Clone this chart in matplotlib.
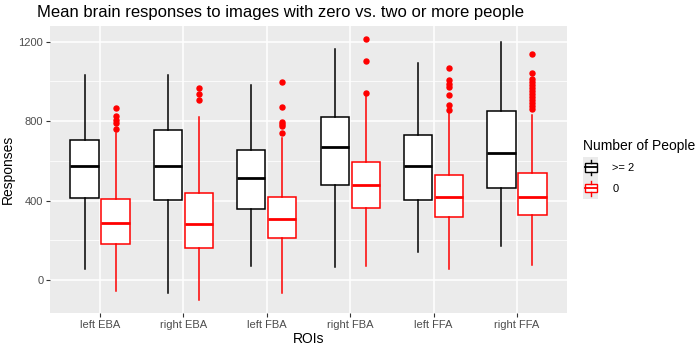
import matplotlib
matplotlib.use("Agg")
import matplotlib.pyplot as plt
from matplotlib.patches import Patch, Rectangle
from matplotlib.lines import Line2D
from matplotlib.legend_handler import HandlerBase

plt.rcParams['font.family'] = ['Liberation Sans', 'DejaVu Sans']

rois = ["left EBA", "right EBA", "left FBA", "right FBA", "left FFA", "right FFA"]
groups = [">= 2", "0"]
colors = ["black", "red"]

# box stats: whisker low, Q1, median, Q3, whisker high
two_plus_lo = [58, -67, 72, 65, 142, 173]
two_plus_q1 = [413, 402, 358, 480, 403, 465]
two_plus_med = [575, 573, 513, 668, 572, 640]
two_plus_q3 = [705, 755, 655, 820, 732, 852]
two_plus_hi = [1033, 1033, 983, 1162, 1092, 1200]

zero_lo = [-53, -100, -67, 70, 55, 78]
zero_q1 = [183, 163, 213, 363, 317, 328]
zero_med = [288, 280, 307, 478, 418, 417]
zero_q3 = [408, 437, 417, 595, 530, 538]
zero_hi = [740, 820, 717, 925, 842, 833]
zero_out = [
    [865, 828, 808, 792, 758],
    [965, 937, 908],
    [997, 872, 797, 785, 775, 742],
    [1213, 1103, 940],
    [1070, 1008, 988, 972, 933, 880, 855],
    [1140, 1042, 1010, 995, 980, 965, 950, 935, 920, 905, 890, 875, 862],
]

LEG_FS = 8
LEG_SPACE = 0.72


def make_stats(lo, q1, med, q3, hi, out=None):
    stats = []
    for i in range(len(lo)):
        stats.append({"whislo": lo[i], "q1": q1[i], "med": med[i], "q3": q3[i],
                      "whishi": hi[i], "fliers": out[i] if out else []})
    return stats


class BoxHandler(HandlerBase):
    # mini boxplot glyph on grey key background, like ggplot
    def create_artists(self, legend, orig_handle, xdescent, ydescent, width, height, fontsize, trans):
        c = orig_handle.get_edgecolor()
        x0, y0 = -xdescent, -ydescent
        ext = 0.5 * LEG_SPACE * fontsize
        bg = Rectangle((x0, y0 - ext), width, height + 2 * ext, facecolor="#EBEBEB",
                       edgecolor="none", transform=trans)
        bx = Rectangle((x0 + 0.1 * width, y0 + 0.17 * height), 0.8 * width, 0.66 * height,
                       facecolor="white", edgecolor=c, lw=1.0, transform=trans)
        med = Line2D([x0 + 0.1 * width, x0 + 0.9 * width], [y0 + 0.5 * height] * 2,
                     color=c, lw=1.3, transform=trans)
        w1 = Line2D([x0 + 0.5 * width] * 2, [y0 - 0.3 * ext, y0 + 0.17 * height],
                    color=c, lw=1.0, transform=trans)
        w2 = Line2D([x0 + 0.5 * width] * 2, [y0 + 0.83 * height, y0 + height + 0.3 * ext],
                    color=c, lw=1.0, transform=trans)
        return [bg, bx, med, w1, w2]


fig = plt.figure(figsize=(7, 3.46), dpi=100)
ax = fig.add_axes([50 / 700, 33 / 346, 517 / 700, 287 / 346])
ax.set_facecolor("#EBEBEB")

pos = list(range(1, len(rois) + 1))
off = 0.186
all_stats = [make_stats(two_plus_lo, two_plus_q1, two_plus_med, two_plus_q3, two_plus_hi),
             make_stats(zero_lo, zero_q1, zero_med, zero_q3, zero_hi, zero_out)]
for k, st in enumerate(all_stats):
    c = colors[k]
    p = [x + (-off if k == 0 else off) for x in pos]
    ax.bxp(st, positions=p, widths=0.34, showcaps=False, patch_artist=True,
           boxprops=dict(facecolor="white", edgecolor=c, lw=1.1),
           whiskerprops=dict(color=c, lw=1.1),
           medianprops=dict(color=c, lw=2.0),
           flierprops=dict(marker="o", markerfacecolor="red", markeredgecolor="red", markersize=3.6),
           zorder=3)

ax.set_xlim(0.4, 6.6)
ax.set_ylim(-166, 1279)
ax.set_xticks(pos)
ax.set_xticklabels(rois)
ax.set_yticks([0, 400, 800, 1200])
ax.set_yticks([200, 600, 1000], minor=True)
ax.grid(which="major", color="white", lw=1.1, zorder=0)
ax.grid(which="minor", axis="y", color="white", lw=0.55, zorder=0)
ax.set_axisbelow(True)
for s in ax.spines.values():
    s.set_visible(False)
ax.tick_params(which="major", length=2.8, width=0.8, color="#333333", labelsize=8, labelcolor="#4D4D4D", pad=2)
ax.tick_params(which="minor", length=0)

ax.set_xlabel("ROIs", fontsize=10, labelpad=2)
ax.set_ylabel("Responses", fontsize=10, labelpad=3)
fig.text(37 / 700, 1 - 12 / 346, "Mean brain responses to images with zero vs. two or more people",
         fontsize=12, ha="left", va="center")

handles = [Patch(edgecolor=colors[i], facecolor="white") for i in range(2)]
leg = fig.legend(handles, groups, title="Number of People", loc="upper left",
                 bbox_to_anchor=(583 / 700, 1 - 139 / 346), frameon=False,
                 handler_map={Patch: BoxHandler()}, fontsize=LEG_FS, title_fontsize=10,
                 handlelength=1.35, handleheight=1.4, handletextpad=1.3, labelspacing=LEG_SPACE,
                 borderaxespad=0.0, borderpad=0.0)
leg._legend_box.align = "left"

fig.savefig("out.png", dpi=100)
